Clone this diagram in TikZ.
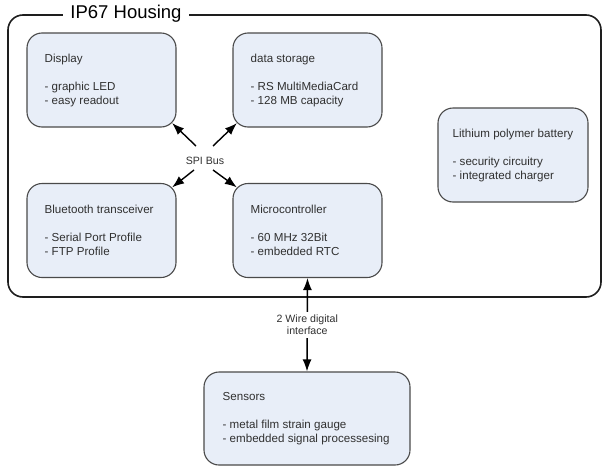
\documentclass[tikz,border=0pt]{standalone}
\usepackage{fontspec}
\setmainfont{Liberation Sans}
\usetikzlibrary{arrows.meta,calc}
\definecolor{boxfill}{HTML}{E8EEF8}
\definecolor{boxline}{HTML}{4A4A4A}
\definecolor{housline}{HTML}{1E1E1E}
\definecolor{txt}{HTML}{303030}
\begin{document}
\begin{tikzpicture}[x=1pt,y=-1pt,
  boxnode/.style={draw=boxline, line width=1.1pt, fill=boxfill, rounded corners=15pt,
    minimum height=94pt, inner sep=0pt},
  boxtext/.style={anchor=west, inner sep=0pt, align=left, text=txt,
    font=\fontsize{11.6}{14}\selectfont},
  conn/.style={line width=1.4pt, -{Latex[length=12pt,width=9pt]}},
  lbl/.style={text=txt, font=\fontsize{10.6}{12}\selectfont, align=center}]
\useasboundingbox (0,0) rectangle (602,466);
% housing
\draw[housline, line width=1.6pt, rounded corners=15pt] (8,15) rectangle (601,297);
\node[fill=white, inner xsep=7pt, inner ysep=1pt, font=\fontsize{18.5}{20}\selectfont, text=black] (title) at (126,14) {IP67 Housing};
% boxes
\node[boxnode, minimum width=149pt] (disp) at (101.5,80) {};
\node[boxnode, minimum width=149pt] (stor) at (307.5,80) {};
\node[boxnode, minimum width=150pt] (batt) at (513,155) {};
\node[boxnode, minimum width=149pt] (bt) at (101.5,230.5) {};
\node[boxnode, minimum width=149pt] (mc) at (307.5,230.5) {};
\node[boxnode, minimum width=206pt, minimum height=93pt] (sens) at (307,418.5) {};
% box texts
\node[boxtext] (dispt) at ($(disp.west)+(18,0)$) {Display\\[14pt]- graphic LED\\- easy readout};
\node[boxtext] (stort) at ($(stor.west)+(18,0)$) {data storage\\[14pt]- RS MultiMediaCard\\- 128 MB capacity};
\node[boxtext] (battt) at ($(batt.west)+(15,0)$) {Lithium polymer battery\\[14pt]- security circuitry\\- integrated charger};
\node[boxtext] (btt) at ($(bt.west)+(18,0)$) {Bluetooth transceiver\\[14pt]- Serial Port Profile\\- FTP Profile};
\node[boxtext] (mct) at ($(mc.west)+(18,0)$) {Microcontroller\\[14pt]- 60 MHz 32Bit\\- embedded RTC};
\node[boxtext] (senst) at ($(sens.west)+(19,0)$) {Sensors\\[14pt]- metal film strain gauge\\- embedded signal processesing};
% SPI bus
\node[lbl] (spi) at (205,161) {SPI Bus};
\coordinate (t1) at (196,146);
\coordinate (t2) at (213,146);
\coordinate (t3) at (194,170);
\coordinate (t4) at (213,170);
\draw[conn] (t1) -- ($(disp.south east)+(-4.4,-4.4)$);
\draw[conn] (t2) -- ($(stor.south west)+(4.4,-4.4)$);
\draw[conn] (t3) -- ($(bt.north east)+(-4.4,4.4)$);
\draw[conn] (t4) -- ($(mc.north west)+(4.4,4.4)$);
% 2 wire interface
\draw[line width=1.4pt, {Latex[length=12pt,width=9pt]}-{Latex[length=12pt,width=9pt]}] (mc.south) -- node[lbl, fill=white, inner xsep=2pt, inner ysep=3pt] (wire) {2 Wire digital\\interface} (sens.north);
\end{tikzpicture}
\end{document}
